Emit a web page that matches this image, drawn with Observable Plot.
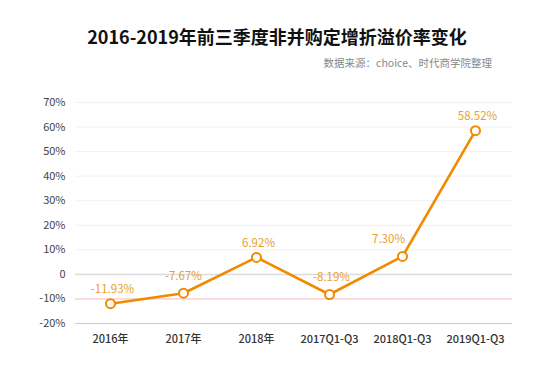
<!DOCTYPE html>
<html>
<head>
<meta charset="utf-8">
<script src="https://cdn.jsdelivr.net/npm/d3@7"></script>
<script src="https://cdn.jsdelivr.net/npm/@observablehq/plot@0.6"></script>
<style>
  body { margin: 0; background: #fff; font-family: "Noto Sans CJK SC", "Noto Sans", sans-serif; }
  #wrap { position: relative; width: 554px; height: 382px; overflow: hidden; }
  #title { position: absolute; top: 24px; left: 0; width: 554px; text-align: center; font-size: 18px; font-weight: bold; line-height: 24px; color: #111; }
  #sub { position: absolute; top: 56px; right: 62px; font-size: 10.5px; line-height: 14px; color: #888; }
  #chart { position: absolute; top: 80px; left: 0; }
</style>
</head>
<body>
<div id="wrap">
  <div id="title">2016-2019年前三季度非并购定增折溢价率变化</div>
  <div id="sub">数据来源：choice、时代商学院整理</div>
  <div id="chart"></div>
</div>
<script>
const categories = ["2016年", "2017年", "2018年", "2017Q1-Q3", "2018Q1-Q3", "2019Q1-Q3"];
const values = [-11.93, -7.67, 6.92, -8.19, 7.30, 58.52];
const yTicks = [-20, -10, 0, 10, 20, 30, 40, 50, 60, 70];

const data = categories.map((c, i) => ({cat: c, v: values[i]}));
const fmt = d => d.v.toFixed(2) + "%";
// label placement tweaks (style only)
const labelOffset = {"2017年": [0, -17], "2017Q1-Q3": [2, -17], "2018Q1-Q3": [-14, -17]};

const chart = Plot.plot({
  width: 554,
  height: 302,
  marginTop: 22,
  marginBottom: 59,
  marginLeft: 75,
  marginRight: 42,
  style: {fontFamily: "'Noto Sans CJK SC', 'Noto Sans', sans-serif", background: "#fff"},
  x: {type: "point", domain: categories, range: [109, 475.5], padding: 0},
  y: {domain: [-20, 70]},
  marks: [
    Plot.ruleY(yTicks.filter(t => t > 0), {stroke: "#f1f1f1", strokeWidth: 1}),
    Plot.ruleY(yTicks.filter(t => t < 0), {stroke: "#efbcbc", strokeWidth: 1}),
    Plot.ruleY([0], {stroke: "#dcdcdc", strokeWidth: 1.5}),
    Plot.axisY({ticks: yTicks, tickSize: 0, tickPadding: 10, fontSize: 11, fill: "#444", tickFormat: d => d === 0 ? "0" : d + "%", label: null}),
    Plot.axisX({tickSize: 0, tickPadding: 12, fontSize: 11, fill: "#333", fontWeight: 500, label: null}),
    Plot.line(data, {x: "cat", y: "v", stroke: "#f18a00", strokeWidth: 2.6}),
    Plot.dot(data, {x: "cat", y: "v", r: 4.5, fill: "#fff", stroke: "#f18a00", strokeWidth: 2}),
    ...data.map(d => {
      const [dx, dy] = labelOffset[d.cat] || [2, -14];
      return Plot.text([d], {x: "cat", y: "v", text: fmt, dx, dy, fill: "#e8a030", fontSize: 11.5});
    })
  ]
});
document.getElementById("chart").appendChild(chart);
</script>
</body>
</html>
